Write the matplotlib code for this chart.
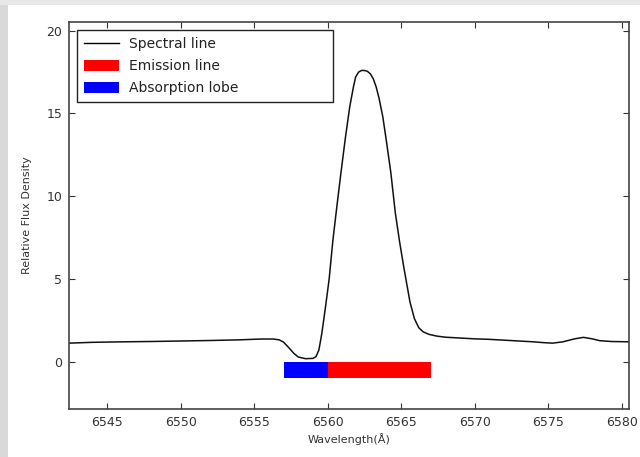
import matplotlib
matplotlib.use("Agg")
import matplotlib.pyplot as plt
from matplotlib.patches import Patch, Rectangle
from matplotlib.lines import Line2D

# Spectrum
wavelength = [6542.4, 6544.0, 6546.0, 6548.0, 6550.0, 6552.0, 6554.0, 6555.5,
              6556.3, 6556.7, 6557.0, 6557.3, 6557.7, 6558.0, 6558.5, 6559.0,
              6559.2, 6559.4, 6559.6, 6559.85, 6560.1, 6560.35, 6560.6, 6560.9,
              6561.2, 6561.5, 6561.75, 6561.9, 6562.1, 6562.3, 6562.5, 6562.7,
              6562.9, 6563.1, 6563.3, 6563.5, 6563.75, 6564.0, 6564.3, 6564.6,
              6564.9, 6565.2, 6565.6, 6565.9, 6566.2, 6566.5, 6566.9, 6567.4,
              6568.0, 6569.0, 6570.0, 6571.0, 6572.0, 6573.0, 6574.0, 6574.7,
              6575.3, 6576.0, 6576.8, 6577.4, 6578.0, 6578.5, 6579.3, 6580.5]
flux = [1.12, 1.17, 1.20, 1.22, 1.25, 1.28, 1.32, 1.37,
        1.37, 1.32, 1.18, 0.90, 0.50, 0.28, 0.18, 0.20,
        0.30, 0.70, 1.70, 3.30, 5.00, 7.30, 9.20, 11.40,
        13.50, 15.40, 16.60, 17.20, 17.50, 17.60, 17.60, 17.55,
        17.40, 17.10, 16.60, 15.90, 14.80, 13.30, 11.40, 9.00,
        7.20, 5.60, 3.60, 2.60, 2.05, 1.80, 1.65, 1.55,
        1.48, 1.43, 1.38, 1.35, 1.30, 1.25, 1.20, 1.15,
        1.12, 1.20, 1.38, 1.47, 1.38, 1.27, 1.22, 1.20]

# Marked regions
absorption_range = [6557.0, 6560.0]
emission_range = [6560.0, 6567.0]

legend_labels = ["Spectral line", "Emission line", "Absorption lobe"]
x_ticks = [6545, 6550, 6555, 6560, 6565, 6570, 6575, 6580]
y_ticks = [0, 5, 10, 15, 20]

fig = plt.figure(figsize=(6.4, 4.57), dpi=100)
fig.patch.set_facecolor("white")
# grey screenshot border
fig.patches.append(Rectangle((0, 0), 8 / 640, 1, transform=fig.transFigure,
                             facecolor="#d9d9d9", edgecolor="none", zorder=0))
fig.patches.append(Rectangle((0, 1 - 5 / 457), 1, 5 / 457, transform=fig.transFigure,
                             facecolor="#e8e8e8", edgecolor="none", zorder=0))

ax = fig.add_axes([69 / 640, 1 - 409 / 457, 560 / 640, 387 / 457])

ax.plot(wavelength, flux, color="#111111", lw=1.1, solid_joinstyle="round")
ax.barh(-0.5, absorption_range[1] - absorption_range[0], left=absorption_range[0],
        height=1.0, color="blue", edgecolor="none")
ax.barh(-0.5, emission_range[1] - emission_range[0], left=emission_range[0],
        height=1.0, color="red", edgecolor="none")

ax.set_xlim(6542.4, 6580.5)
ax.set_ylim(-2.86, 20.53)
ax.set_xticks(x_ticks)
ax.set_yticks(y_ticks)
ax.tick_params(direction="in", top=True, right=True, length=4, width=0.8,
               labelsize=9, colors="#333333", pad=5)
for s in ax.spines.values():
    s.set_linewidth(1.2)
    s.set_color("#444444")

ax.set_ylabel("Relative Flux Density", fontsize=8, color="#333333", labelpad=10)
ax.set_xlabel("Wavelength(Å)", fontsize=8, color="#333333", labelpad=3)

handles = [Line2D([], [], color="black", lw=1.0),
           Patch(facecolor="red", edgecolor="none"),
           Patch(facecolor="blue", edgecolor="none")]
leg = ax.legend(handles, legend_labels, loc="upper left",
                bbox_to_anchor=(8 / 560, 0, 256 / 560, 1 - 8 / 387),
                mode="expand", borderaxespad=0, fontsize=10,
                fancybox=False, framealpha=1, edgecolor="#222222",
                handlelength=2.5, handleheight=0.85, handletextpad=0.75,
                labelspacing=0.58, borderpad=0.5)
leg.get_frame().set_linewidth(1.0)
for t in leg.get_texts():
    t.set_color("#222222")

fig.savefig("out.png", dpi=100)
